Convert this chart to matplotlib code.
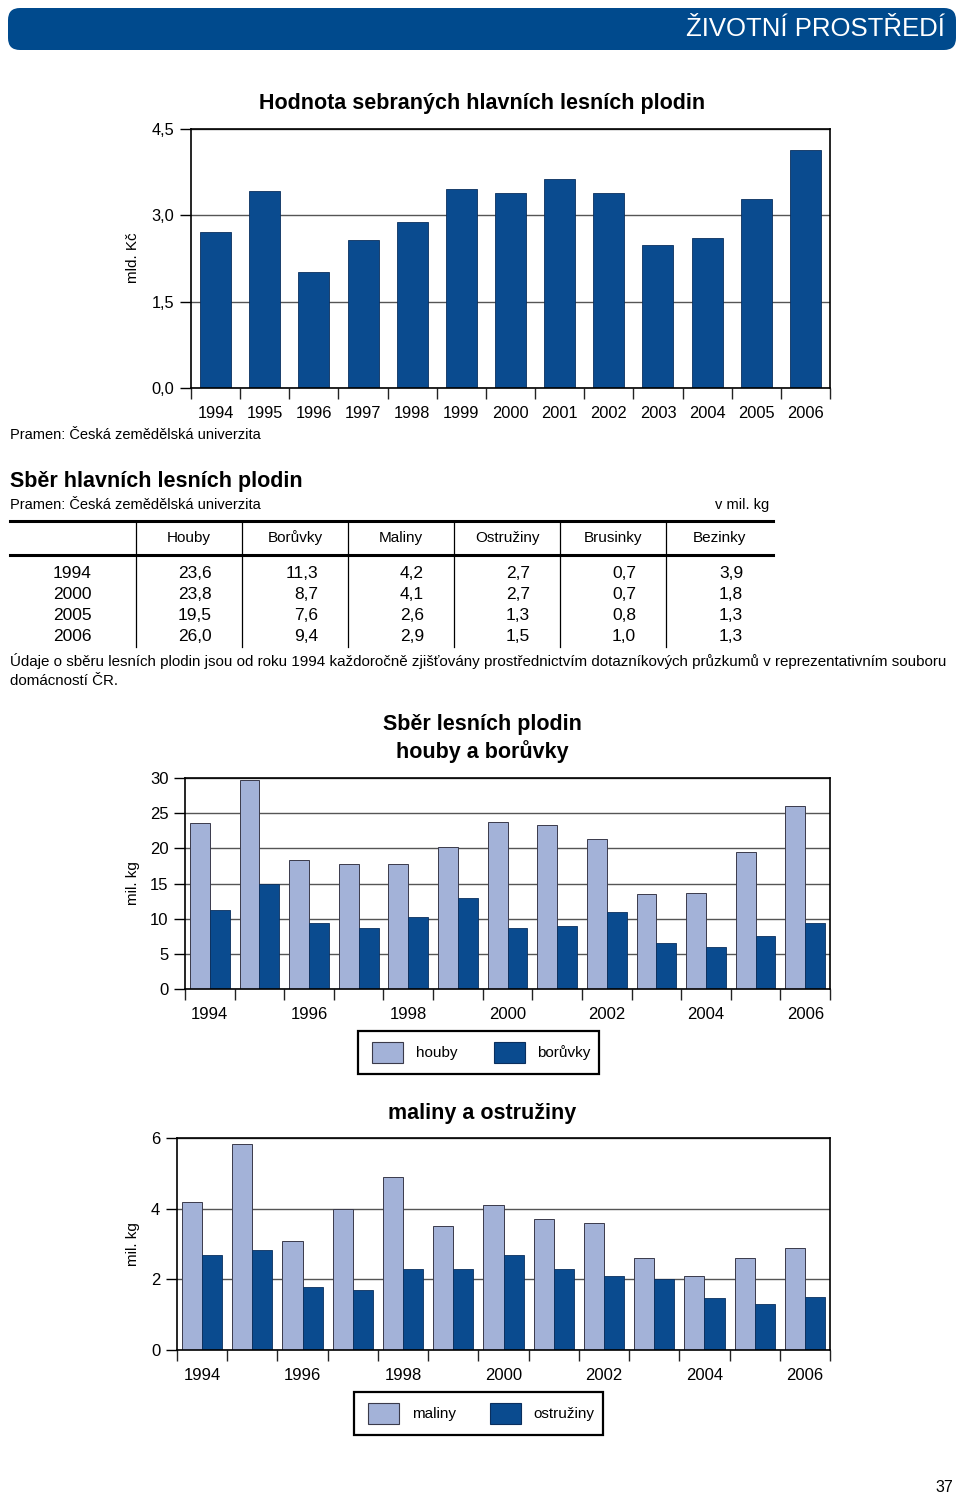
"""Page 37 - forest fruit collection charts and table."""
import matplotlib
matplotlib.use("Agg")
import matplotlib.pyplot as plt
from matplotlib.patches import FancyBboxPatch, Rectangle
from matplotlib.ticker import FuncFormatter

plt.rcParams["font.family"] = ["Liberation Sans", "DejaVu Sans"]

W, H = 960, 1496
C_DARK = "#0a4b8f"
C_LIGHT = "#a3b2d8"
C_EDGE = "#3a3a4a"
C_GRID = "#555555"

# --- data ---
years = [1994, 1995, 1996, 1997, 1998, 1999, 2000, 2001, 2002, 2003, 2004, 2005, 2006]
value_bn_czk = [2.71, 3.42, 2.01, 2.58, 2.88, 3.45, 3.38, 3.63, 3.38, 2.48, 2.60, 3.28, 4.13]

houby = [23.6, 29.7, 18.4, 17.8, 17.8, 20.2, 23.8, 23.3, 21.3, 13.5, 13.7, 19.5, 26.0]
boruvky = [11.3, 15.0, 9.4, 8.7, 10.3, 13.0, 8.7, 8.9, 11.0, 6.5, 6.0, 7.6, 9.4]
maliny = [4.2, 5.82, 3.09, 4.0, 4.89, 3.5, 4.1, 3.71, 3.59, 2.59, 2.1, 2.6, 2.9]
ostruziny = [2.7, 2.82, 1.79, 1.7, 2.29, 2.29, 2.7, 2.29, 2.1, 2.0, 1.48, 1.3, 1.5]

table_cols = ["Houby", "Borůvky", "Maliny", "Ostružiny", "Brusinky", "Bezinky"]
table_years = ["1994", "2000", "2005", "2006"]
table_vals = [
    ["23,6", "11,3", "4,2", "2,7", "0,7", "3,9"],
    ["23,8", "8,7", "4,1", "2,7", "0,7", "1,8"],
    ["19,5", "7,6", "2,6", "1,3", "0,8", "1,3"],
    ["26,0", "9,4", "2,9", "1,5", "1,0", "1,3"],
]

SOURCE = "Pramen: Česká zemědělská univerzita"
NOTE_1 = ("Údaje o sběru lesních plodin jsou od roku 1994 každoročně zjišťovány "
          "prostřednictvím dotazníkových průzkumů v reprezentativním souboru")
NOTE_2 = "domácností ČR."


def rect(left, top, right, bottom):
    return [left / W, 1 - bottom / H, (right - left) / W, (bottom - top) / H]


def comma_fmt(decimals):
    return FuncFormatter(lambda v, _: f"{v:.{decimals}f}".replace(".", ","))


def style_axes(ax, ymax, ystep, decimals, tick_fs, label_every=1):
    n = len(years)
    ax.set_xlim(-0.5, n - 0.5)
    ax.set_ylim(0, ymax)
    yt = [i * ystep for i in range(int(round(ymax / ystep)) + 1)]
    ax.set_yticks(yt)
    ax.yaxis.set_major_formatter(comma_fmt(decimals))
    ax.set_xticks(list(range(0, n, label_every)))
    ax.set_xticklabels([str(y) for y in years[::label_every]], fontsize=tick_fs)
    ax.set_xticks([i - 0.5 for i in range(n + 1)], minor=True)
    ax.tick_params(axis="x", which="major", length=0, pad=13)
    ax.tick_params(axis="x", which="minor", length=8, width=1, color="#222222")
    ax.tick_params(axis="y", length=8, width=1, pad=4, labelsize=tick_fs)
    ax.grid(axis="y", color=C_GRID, linewidth=1.0)
    ax.set_axisbelow(True)
    for sp in ax.spines.values():
        sp.set_linewidth(1.2)
        sp.set_color("black")


fig = plt.figure(figsize=(W / 100, H / 100), dpi=100)

# page layer in pixel coordinates
page = fig.add_axes([0, 0, 1, 1], zorder=0)
page.set_xlim(0, W)
page.set_ylim(H, 0)
page.axis("off")

page.add_patch(FancyBboxPatch((12, 12), 940, 34, boxstyle="round,pad=4,rounding_size=12",
                              facecolor="#004a8d", edgecolor="none"))
page.text(945, 29, "ŽIVOTNÍ PROSTŘEDÍ", color="white", fontsize=18.5,
          ha="right", va="center")

# chart 1
page.text(482, 103, "Hodnota sebraných hlavních lesních plodin", fontsize=15.5,
          fontweight="bold", ha="center", va="center")
page.text(133, 258, "mld. Kč", rotation=90, fontsize=11, ha="center", va="center")
ax1 = fig.add_axes(rect(191, 129, 830, 388), zorder=1)
ax1.bar(range(len(years)), value_bn_czk, width=0.63, color=C_DARK,
        edgecolor="#0a2f5e", linewidth=0.6)
style_axes(ax1, 4.5, 1.5, 1, 11.8)
page.text(10, 435, SOURCE, fontsize=10.5, ha="left", va="center")

# table
page.text(10, 481, "Sběr hlavních lesních plodin", fontsize=15.5, fontweight="bold",
          ha="left", va="center")
page.text(10, 505, SOURCE, fontsize=10.5, ha="left", va="center")
page.text(769, 505, "v mil. kg", fontsize=10.5, ha="right", va="center")
page.plot([10, 773], [521, 521], color="black", linewidth=2.2)
page.plot([10, 773], [555, 555], color="black", linewidth=2.2)
col_edges = [136, 242, 348, 454, 560, 666, 773]
for x in col_edges[:-1]:
    page.plot([x, x], [521, 647], color="black", linewidth=0.9)
for j, name in enumerate(table_cols):
    page.text((col_edges[j] + col_edges[j + 1]) / 2, 538, name, fontsize=11,
              ha="center", va="center")
row_y = [573, 594, 615, 636]
for i, yr in enumerate(table_years):
    page.text(72, row_y[i], yr, fontsize=12.5, ha="center", va="center")
    for j, v in enumerate(table_vals[i]):
        page.text(col_edges[j + 1] - 30, row_y[i], v, fontsize=12.5,
                  ha="right", va="center")
page.text(10, 661, NOTE_1, fontsize=10.9, ha="left", va="center")
page.text(10, 681, NOTE_2, fontsize=10.9, ha="left", va="center")

# chart 2
page.text(482, 724, "Sběr lesních plodin", fontsize=15.5, fontweight="bold",
          ha="center", va="center")
page.text(482, 752, "houby a borůvky", fontsize=15.5, fontweight="bold",
          ha="center", va="center")
page.text(133, 883, "mil. kg", rotation=90, fontsize=11, ha="center", va="center")
ax2 = fig.add_axes(rect(185, 778, 830, 989), zorder=1)
x = list(range(len(years)))
ax2.bar([i - 0.2 for i in x], houby, width=0.4, color=C_LIGHT, edgecolor=C_EDGE,
        linewidth=0.7, label="houby")
ax2.bar([i + 0.2 for i in x], boruvky, width=0.4, color=C_DARK, edgecolor="#0a2f5e",
        linewidth=0.6, label="borůvky")
style_axes(ax2, 30, 5, 0, 12, label_every=2)

page.add_patch(Rectangle((358, 1031), 241, 43, facecolor="white", edgecolor="black",
                         linewidth=1.6))
page.add_patch(Rectangle((372, 1042), 31, 21, facecolor=C_LIGHT, edgecolor=C_EDGE,
                         linewidth=0.8))
page.text(416, 1053, "houby", fontsize=11, ha="left", va="center")
page.add_patch(Rectangle((494, 1042), 31, 21, facecolor=C_DARK, edgecolor="#0a2f5e",
                         linewidth=0.8))
page.text(537, 1053, "borůvky", fontsize=11, ha="left", va="center")

# chart 3
page.text(482, 1113, "maliny a ostružiny", fontsize=15.5, fontweight="bold",
          ha="center", va="center")
page.text(133, 1244, "mil. kg", rotation=90, fontsize=11, ha="center", va="center")
ax3 = fig.add_axes(rect(177, 1138, 830, 1350), zorder=1)
ax3.bar([i - 0.2 for i in x], maliny, width=0.4, color=C_LIGHT, edgecolor=C_EDGE,
        linewidth=0.7, label="maliny")
ax3.bar([i + 0.2 for i in x], ostruziny, width=0.4, color=C_DARK, edgecolor="#0a2f5e",
        linewidth=0.6, label="ostružiny")
style_axes(ax3, 6, 2, 0, 12, label_every=2)

page.add_patch(Rectangle((354, 1392), 249, 43, facecolor="white", edgecolor="black",
                         linewidth=1.6))
page.add_patch(Rectangle((368, 1403), 31, 21, facecolor=C_LIGHT, edgecolor=C_EDGE,
                         linewidth=0.8))
page.text(412, 1414, "maliny", fontsize=11, ha="left", va="center")
page.add_patch(Rectangle((490, 1403), 31, 21, facecolor=C_DARK, edgecolor="#0a2f5e",
                         linewidth=0.8))
page.text(533, 1414, "ostružiny", fontsize=11, ha="left", va="center")

page.text(953, 1487, "37", fontsize=11.5, ha="right", va="center")

fig.savefig("out.png", dpi=100)
